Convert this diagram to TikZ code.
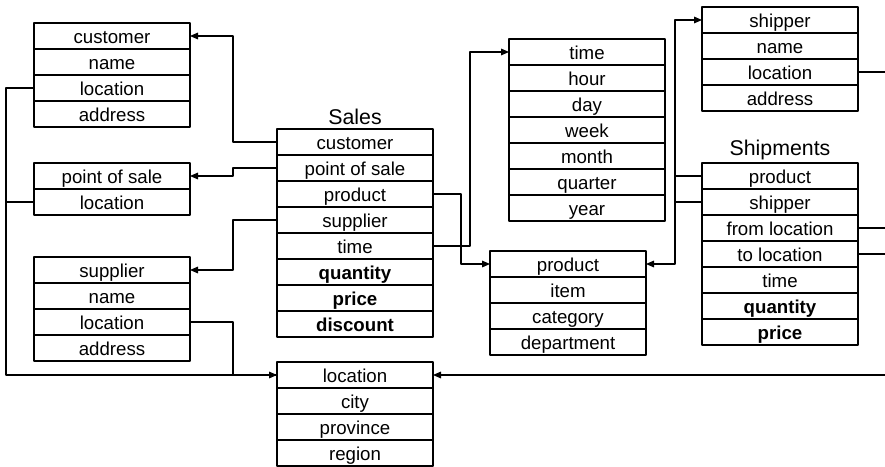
\documentclass[tikz,border=0pt]{standalone}
\usepackage{fontspec}
\setmainfont{Liberation Sans}
\usetikzlibrary{arrows.meta}
\tikzset{
  row/.style={draw, line width=0.8pt, minimum width=117pt, minimum height=19.5pt,
    text height=12pt, text depth=0.5pt,
    inner sep=0pt, outer sep=0pt, font=\fontsize{14}{16}\selectfont},
  tabtitle/.style={inner sep=0pt, font=\fontsize{16}{19}\selectfont},
  link/.style={line width=0.8pt, ->},
}
% one table: name, left x, top y, rows
\newcommand{\dimtable}[4]{%
  \foreach \txt [count=\i] in {#4}
    \node[row] (#1-\i) at ({#2+78},{#3+13+26*(\i-1)}) {\txt};
}
\begin{document}
\begin{tikzpicture}[x=0.75pt, y=-0.75pt, line cap=round, line join=round, >={Triangle[length=6pt,width=5pt]}]
  \useasboundingbox (0,0) rectangle (885,467);
  % dimension tables
  \dimtable{cust}{34}{23}{customer, name, location, address}
  \dimtable{pos}{34}{163}{point of sale, location}
  \dimtable{supp}{34}{257}{supplier, name, location, address}
  \dimtable{time}{509}{39}{time, hour, day, week, month, quarter, year}
  \dimtable{prod}{490}{251}{product, item, category, department}
  \dimtable{shipr}{702}{7}{shipper, name, location, address}
  \dimtable{loc}{277}{362}{location, city, province, region}
  % fact tables
  \node[tabtitle] (salesT) at (355,117) {Sales};
  \dimtable{sales}{277}{129}{customer, point of sale, product, supplier, time,
    {\textbf{quantity}}, {\textbf{price}}, {\textbf{discount}}}
  \node[tabtitle] (shipT) at (780,150) {Shipments};
  \dimtable{ship}{702}{163}{product, shipper, from location, to location, time,
    {\textbf{quantity}}, {\textbf{price}}}
  \coordinate (lim) at (6,375);
  \coordinate (rim) at (885,375);
  % Sales links
  \draw[link] (sales-1.west) -- ++(-44,0) |- (cust-1.east);
  \draw[link] (sales-2.west) -- ++(-44,0) |- (pos-1.east);
  \draw[link] (sales-4.west) -- ++(-44,0) |- (supp-1.east);
  \draw[link] (sales-3.east) -- ++(28,0) |- (prod-1.west);
  \draw[link] (sales-5.east) -- ++(37,0) |- (time-1.west);
  % Shipments links
  \draw[link] (ship-1.west) -- ++(-27,0) |- (prod-1.east);
  \draw[link] (ship-2.west) -- ++(-27,0) |- (shipr-1.west);
  \draw[line width=0.8pt] (shipr-3.east) -- (shipr-3.east -| rim);
  \draw[line width=0.8pt] (ship-3.east) -- (ship-3.east -| rim);
  \draw[line width=0.8pt] (ship-4.east) -- (ship-4.east -| rim);
  \draw[link] (rim) -- (loc-1.east);
  % location links
  \draw[link] (cust-3.west) -| (lim) -- (loc-1.west);
  \draw[line width=0.8pt] (pos-2.west) -- (pos-2.west -| lim);
  \draw[line width=0.8pt] (supp-3.east) -- ++(43,0) |- (loc-1.west);
\end{tikzpicture}
\end{document}
